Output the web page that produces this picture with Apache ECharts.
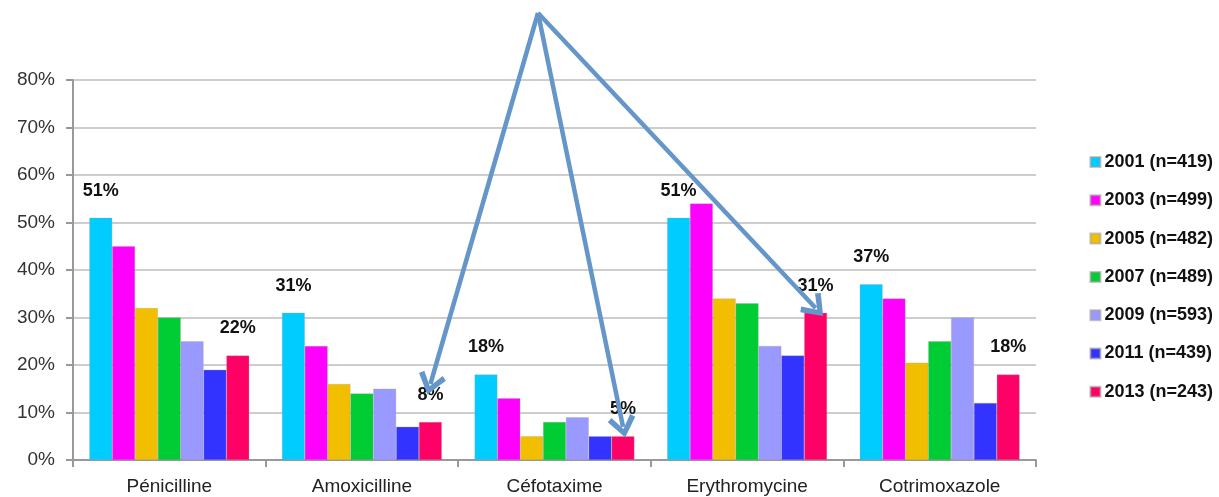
<!DOCTYPE html>
<html>
<head>
<meta charset="utf-8">
<script src="https://cdn.jsdelivr.net/npm/echarts@6/dist/echarts.min.js"></script>
<style>
    html, body { margin: 0; padding: 0; background: #fff; }
    #container { width: 1219px; height: 497px; }
</style>
</head>
<body>
<div id="container"></div>
<script>
// 数据
var categories = ['Pénicilline', 'Amoxicilline', 'Céfotaxime', 'Erythromycine', 'Cotrimoxazole'];
var seriesNames = ['2001 (n=419)', '2003 (n=499)', '2005 (n=482)', '2007 (n=489)', '2009 (n=593)', '2011 (n=439)', '2013 (n=243)'];
var v2001 = [51, 31, 18, 51, 37];
var v2003 = [45, 24, 13, 54, 34];
var v2005 = [32, 16, 5, 34, 20.5];
var v2007 = [30, 14, 8, 33, 25];
var v2009 = [25, 15, 9, 24, 30];
var v2011 = [19, 7, 5, 22, 12];
var v2013 = [22, 8, 5, 31, 18];
var yTicks = [0, 10, 20, 30, 40, 50, 60, 70, 80];
// 箭头指向的类目和终点值
var arrowTargets = ['Amoxicilline', 'Céfotaxime', 'Erythromycine'];
var arrowTipValues = [16, 7, 32];

var colors = ['#00CCFF', '#FF00FF', '#F2BF00', '#00CC33', '#9999FF', '#3333FF', '#FF0066'];
var allValues = [v2001, v2003, v2005, v2007, v2009, v2011, v2013];
var font = '"Liberation Sans", Arial, sans-serif';

var arrowData = [];
for (var a = 0; a < arrowTargets.length; a++) {
    arrowData.push([
        { x: 538, y: 13 },
        { coord: [categories.indexOf(arrowTargets[a]), arrowTipValues[a]] }
    ]);
}

var series = [];
for (var i = 0; i < seriesNames.length; i++) {
    var s = {
        name: seriesNames[i],
        type: 'bar',
        data: allValues[i],
        barGap: '0%',
        barCategoryGap: '17%',
        itemStyle: { color: colors[i], borderColor: 'rgba(160,160,160,0.6)', borderWidth: 0.5 },
        label: {
            show: (i === 0 || i === seriesNames.length - 1),
            position: 'top',
            distance: 18,
            formatter: function (p) { return Math.round(p.value) + '%'; },
            color: '#111',
            fontFamily: font,
            fontWeight: 'bold',
            fontSize: 18
        }
    };
    if (i === seriesNames.length - 1) {
        s.markLine = {
            silent: true,
            animation: false,
            symbol: ['none', 'path://M5,0 L10,7.2 L8.4,8.6 L5,3.4 L1.6,8.6 L0,7.2 Z'],
            symbolSize: [28, 22],
            label: { show: false },
            lineStyle: { color: '#6596CA', width: 4.5, type: 'solid' },
            data: arrowData
        };
    }
    series.push(s);
}

var chart = echarts.init(document.getElementById('container'));
var option = {
    animation: false,
    backgroundColor: '#fff',
    grid: { left: 73, right: 183, top: 80, bottom: 37 },
    legend: {
        orient: 'vertical',
        right: 1,
        top: 148,
        itemWidth: 10,
        itemHeight: 10,
        itemGap: 20.3,
        icon: 'rect',
        data: seriesNames,
        textStyle: { fontFamily: font, fontWeight: 'bold', fontSize: 18, color: '#111', padding: [0, 0, 0, -1] }
    },
    xAxis: {
        type: 'category',
        data: categories,
        axisLine: { lineStyle: { color: '#999', width: 2 } },
        axisTick: { show: true, length: 7, lineStyle: { color: '#999', width: 2 } },
        axisLabel: { fontFamily: font, fontSize: 19, color: '#222', margin: 17 }
    },
    yAxis: {
        type: 'value',
        min: yTicks[0],
        max: yTicks[yTicks.length - 1],
        interval: 10,
        axisLine: { show: true, lineStyle: { color: '#999', width: 2 } },
        axisTick: { show: true, length: 7, lineStyle: { color: '#999', width: 2 } },
        axisLabel: { formatter: '{value}%', fontFamily: font, fontSize: 19, color: '#333', margin: 18 },
        splitLine: { lineStyle: { color: '#BDBDBD', width: 1.5 } }
    },
    series: series
};
chart.setOption(option);
</script>
</body>
</html>
